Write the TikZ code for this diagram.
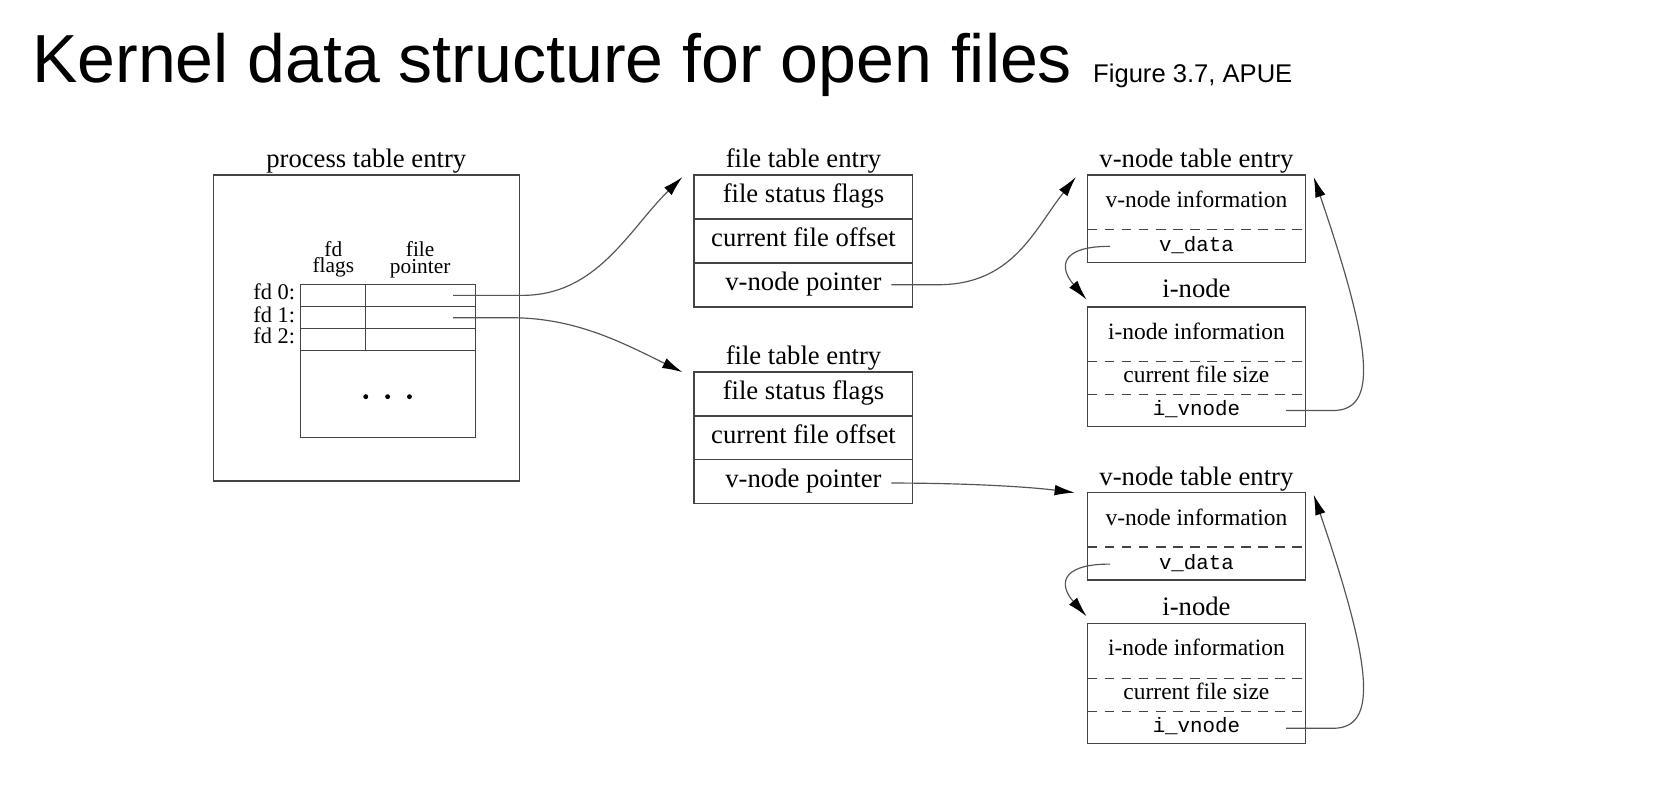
\documentclass[tikz,border=0pt]{standalone}
\usepackage{fontspec}
\setmainfont{Liberation Serif}
\setsansfont{Liberation Sans}
\setmonofont{Liberation Mono}
\usetikzlibrary{arrows.meta,calc}
\definecolor{boxc}{HTML}{444444}
\definecolor{linec}{HTML}{555555}
\begin{document}
\begin{tikzpicture}[x=1pt,y=-1pt,
  box/.style={draw=boxc, line width=1.3pt, inner sep=0pt, outer sep=0pt, anchor=north west},
  sep/.style={draw=boxc, line width=1.3pt},
  dsep/.style={draw=boxc, line width=1.1pt, dash pattern=on 9pt off 7pt},
  txt/.style={anchor=base, inner sep=0pt, font=\fontsize{25}{30}\selectfont},
  stxt/.style={anchor=base, inner sep=0pt, font=\fontsize{22}{26}\selectfont},
  htxt/.style={anchor=base, inner sep=0pt, font=\fontsize{21}{24}\selectfont},
  hdr/.style={anchor=south, inner sep=0pt, align=center, font=\fontsize{20}{15.5}\selectfont},
  mono/.style={anchor=base, inner sep=0pt, font=\ttfamily\fontsize{19.5}{23}\selectfont},
  conn/.style={draw=linec, line width=1.1pt, -{Latex[length=19pt,width=10pt,black]}},
]
\useasboundingbox (0,0) rectangle (1568,743);
\fill[white] (0,0) rectangle (1568,743);

% title
\node[anchor=base west, inner sep=0pt, font=\sffamily\fontsize{63.8}{70}\selectfont] (title) at (30,77) {Kernel data structure for open files};
\node[anchor=base west, inner sep=0pt, font=\sffamily\fontsize{24}{28}\selectfont] (figref) at (1025,77) {Figure 3.7, APUE};

% process table entry
\node[txt] (proclbl) at (343.5,157) {process table entry};
\node[box, minimum width=287pt, minimum height=287pt] (proc) at (200,164) {};
\node[box, minimum width=164pt, minimum height=143pt] (fdt) at (282,267) {};
\draw[sep] (282,287.5) -- (446,287.5);
\draw[sep] (282,308) -- (446,308);
\draw[sep] (282,328.5) -- (446,328.5);
\draw[sep] (343,267) -- (343,328.5);
\node[hdr] (fdh) at (312.6,260.5) {fd\\flags};
\node[hdr] (fph) at (394,260.5) {file\\pointer};
\node[htxt, anchor=base east] (fd0) at (277,281.3) {fd 0:};
\node[htxt, anchor=base east] (fd1) at (277,302.3) {fd 1:};
\node[htxt, anchor=base east] (fd2) at (277,322.5) {fd 2:};
\fill (343,372) circle (2.3pt);
\fill (363.5,372) circle (2.3pt);
\fill (384,372) circle (2.3pt);

% file table entry 1
\node[txt] (ft1lbl) at (753.5,157) {file table entry};
\node[box, minimum width=205pt, minimum height=124pt] (ft1) at (651,164) {};
\draw[sep] (651,205.3) -- (856,205.3);
\draw[sep] (651,246.7) -- (856,246.7);
\node[txt] (ft1a) at (753.5,190) {file status flags};
\node[txt] (ft1b) at (753.5,231) {current file offset};
\node[txt] (ft1c) at (753.5,272) {v-node pointer};

% file table entry 2
\node[txt] (ft2lbl) at (753.5,342) {file table entry};
\node[box, minimum width=205pt, minimum height=123pt] (ft2) at (651,349) {};
\draw[sep] (651,390) -- (856,390);
\draw[sep] (651,431) -- (856,431);
\node[txt] (ft2a) at (753.5,375) {file status flags};
\node[txt] (ft2b) at (753.5,416) {current file offset};
\node[txt] (ft2c) at (753.5,457) {v-node pointer};

% v-node 1 / i-node 1
\node[txt] (vn1lbl) at (1122,157) {v-node table entry};
\node[box, minimum width=204pt, minimum height=82pt] (vn1) at (1020,164) {};
\draw[dsep] (1020,215) -- (1224,215);
\node[stxt] (vn1a) at (1122,195) {v-node information};
\node[mono] (vn1b) at (1122,236) {v\_data};
\node[txt] (in1lbl) at (1122,279) {i-node};
\node[box, minimum width=204pt, minimum height=112pt] (in1) at (1020,288) {};
\draw[dsep] (1020,339) -- (1224,339);
\draw[dsep] (1020,370) -- (1224,370);
\node[stxt] (in1a) at (1122,318) {i-node information};
\node[stxt] (in1b) at (1122,359) {current file size};
\node[mono] (in1c) at (1122,390) {i\_vnode};

% v-node 2 / i-node 2
\node[txt] (vn2lbl) at (1122,455) {v-node table entry};
\node[box, minimum width=204pt, minimum height=82pt] (vn2) at (1020,462) {};
\draw[dsep] (1020,513) -- (1224,513);
\node[stxt] (vn2a) at (1122,493) {v-node information};
\node[mono] (vn2b) at (1122,534) {v\_data};
\node[txt] (in2lbl) at (1122,577) {i-node};
\node[box, minimum width=204pt, minimum height=112pt] (in2) at (1020,585) {};
\draw[dsep] (1020,636) -- (1224,636);
\draw[dsep] (1020,667) -- (1224,667);
\node[stxt] (in2a) at (1122,615) {i-node information};
\node[stxt] (in2b) at (1122,656) {current file size};
\node[mono] (in2c) at (1122,687) {i\_vnode};

% connector ends
\coordinate (p0) at (425,277);
\coordinate (p1) at (425,298);
\coordinate (vp1) at (836,267);
\coordinate (vp2) at (836,453);
\coordinate (vd1) at (1041,231);
\coordinate (vd2) at (1041,529);
\coordinate (iv1) at (1206,385);
\coordinate (iv2) at (1206,683);
\coordinate (t1) at ($(ft1.north west)+(-11,2)$);
\coordinate (t2) at ($(ft2.north west)+(-11,0)$);
\coordinate (t3) at ($(vn1.north west)+(-11,2)$);
\coordinate (t4) at ($(vn2.north west)+(-12,0)$);
\coordinate (t5) at ($(in1.north west)+(-1,-7)$);
\coordinate (t6) at ($(vn1.north east)+(8,2)$);
\coordinate (t7) at ($(in2.north west)+(-1,-7)$);
\coordinate (t8) at ($(vn2.north east)+(8,2)$);

% connectors
\draw[conn] (p0) -- (490,277) .. controls (560,277) and (590,215) .. (t1);
\draw[conn] (p1) -- (480,298) .. controls (540,298) and (585,322) .. (t2);
\draw[conn] (vp1) -- (880,267) .. controls (950,267) and (970,215) .. (t3);
\draw[conn] (vp2) .. controls (900,453) and (960,456) .. (t4);
\draw[conn] (vd1) .. controls (992,231) and (994,252) .. (t5);
\draw[conn] (iv1) -- (1250,385) .. controls (1292,385) and (1288,330) .. (t6);
\draw[conn] (vd2) .. controls (992,529) and (994,550) .. (t7);
\draw[conn] (iv2) -- (1250,683) .. controls (1292,683) and (1288,628) .. (t8);
\end{tikzpicture}
\end{document}
